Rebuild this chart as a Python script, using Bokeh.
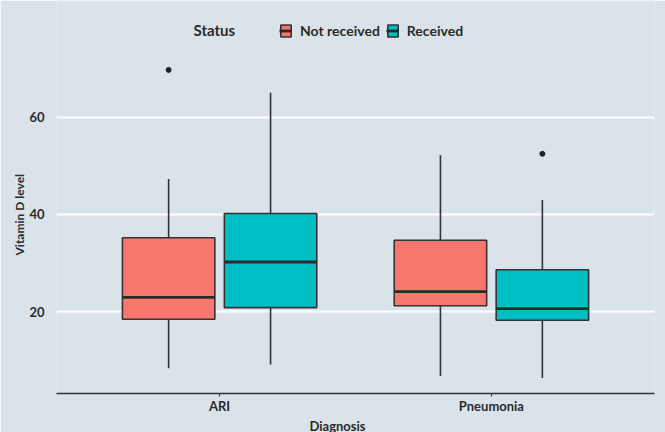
from bokeh.plotting import figure
from bokeh.models import (ColumnDataSource, Range1d, FixedTicker, Legend, LegendItem,
                          Label, Title)
from bokeh.embed import file_html
from bokeh.resources import INLINE

# ---- data ----
diagnoses = ["ARI", "Pneumonia"]
statuses = ["Not received", "Received"]
box_diagnosis = ["ARI", "ARI", "Pneumonia", "Pneumonia"]
box_status = ["Not received", "Received", "Not received", "Received"]
whisker_low = [8.3, 9.1, 6.7, 6.3]
q1 = [18.4, 20.8, 21.2, 18.2]
median = [22.9, 30.2, 24.1, 20.6]
q3 = [35.2, 40.2, 34.7, 28.6]
whisker_high = [47.3, 65.1, 52.2, 43.0]
outlier_diagnosis = ["ARI", "Pneumonia"]
outlier_status = ["Not received", "Received"]
outlier_value = [69.8, 52.5]
y_ticks = [20, 40, 60]

colors = {"Not received": "#F8766D", "Received": "#00BFC4"}
BG = "#DAE3EA"
FONT = "Lato"
TXT = "#2B2B2B"

dodge = 0.1875
box_w = 0.34


def xpos(d, s):
    return diagnoses.index(d) + 1 + (-dodge if s == statuses[0] else dodge)


# the frame reaches the top edge (same colour as the border) so the legend can sit inside it
p = figure(width=665, height=432, output_backend="svg", toolbar_location=None,
           x_range=Range1d(0.4, 2.6), y_range=Range1d(3.1, 84.1),
           min_border_left=56, min_border_right=11, min_border_top=0,
           min_border_bottom=37)
p.background_fill_color = BG
p.border_fill_color = BG
p.outline_line_color = None

items = []
for s in statuses:
    idx = [i for i in range(len(box_status)) if box_status[i] == s]
    xs = [xpos(box_diagnosis[i], s) for i in idx]
    src = ColumnDataSource(dict(
        x=xs,
        x0=[x - box_w / 2 for x in xs],
        x1=[x + box_w / 2 for x in xs],
        lo=[whisker_low[i] for i in idx],
        q1=[q1[i] for i in idx],
        med=[median[i] for i in idx],
        q3=[q3[i] for i in idx],
        hi=[whisker_high[i] for i in idx],
    ))
    p.segment(x0="x", y0="lo", x1="x", y1="q1", source=src, line_color="#333333", line_width=1.6)
    p.segment(x0="x", y0="q3", x1="x", y1="hi", source=src, line_color="#333333", line_width=1.6)
    box = p.vbar(x="x", width=box_w, bottom="q1", top="q3", source=src,
                 fill_color=colors[s], line_color="#333333", line_width=1.6)
    med = p.segment(x0="x0", y0="med", x1="x1", y1="med", source=src,
                    line_color="#2A2A2A", line_width=2.8)
    items.append(LegendItem(label=s, renderers=[box, med]))

p.scatter(x=[xpos(d, s) for d, s in zip(outlier_diagnosis, outlier_status)],
          y=outlier_value, size=5, color="#222222")

# axes
p.xaxis.ticker = FixedTicker(ticks=[1, 2])
p.xaxis.major_label_overrides = {1: "ARI", 2: "Pneumonia"}
p.xaxis.minor_tick_line_color = None
p.xaxis.major_tick_in = 0
p.xaxis.major_tick_out = 3
p.xaxis.major_tick_line_color = "#333333"
p.xaxis.axis_line_color = "#333333"
p.xaxis.axis_line_width = 1.6
p.xaxis.major_label_standoff = 1
p.xaxis.major_label_text_font = FONT
p.xaxis.major_label_text_font_style = "bold"
p.xaxis.major_label_text_font_size = "13px"
p.xaxis.major_label_text_color = TXT

p.yaxis.ticker = FixedTicker(ticks=y_ticks)
p.yaxis.axis_line_color = None
p.yaxis.major_tick_line_color = None
p.yaxis.minor_tick_line_color = None
p.yaxis.major_label_standoff = 6
p.yaxis.major_label_text_font = FONT
p.yaxis.major_label_text_font_style = "bold"
p.yaxis.major_label_text_font_size = "13px"
p.yaxis.major_label_text_color = TXT

p.xgrid.grid_line_color = None
p.ygrid.grid_line_color = "white"
p.ygrid.grid_line_width = 2

p.add_layout(Title(text="Vitamin D level", align="left", offset=138, standoff=0,
                   text_font=FONT, text_font_style="bold", text_font_size="12px",
                   text_color=TXT), "left")
p.add_layout(Title(text="Diagnosis", align="left", offset=253, standoff=-2,
                   text_font=FONT, text_font_style="bold", text_font_size="13px",
                   text_color=TXT), "below")

p.add_layout(Label(x=137, y=364, x_units="screen", y_units="screen", text="Status",
                   text_align="left", text_baseline="middle", text_font=FONT,
                   text_font_style="bold", text_font_size="15px", text_color=TXT))

legend = Legend(items=items, orientation="horizontal", location=(223, 354),
                label_text_font=FONT, label_text_font_style="bold",
                label_text_font_size="14px", label_text_color=TXT,
                glyph_width=13, glyph_height=15, label_standoff=8, spacing=6,
                padding=5, margin=0, border_line_color=None,
                background_fill_alpha=0)
p.add_layout(legend, "center")

open("out.html", "w").write(file_html(p, INLINE))
